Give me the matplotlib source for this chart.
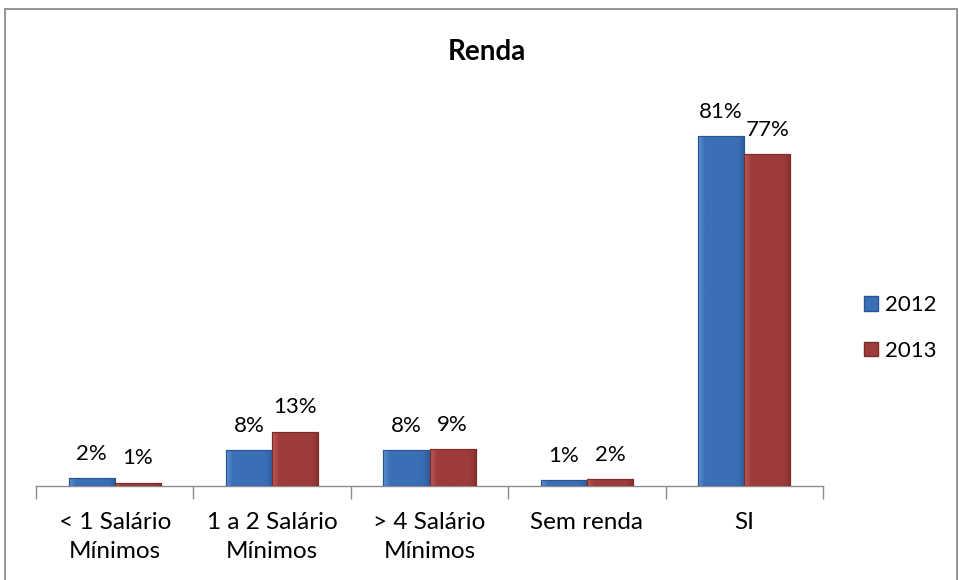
import matplotlib
matplotlib.use("Agg")
import matplotlib.pyplot as plt
import numpy as np
from matplotlib.patches import Rectangle, Patch

categories = ["< 1 Salário\nMínimos", "1 a 2 Salário\nMínimos", "> 4 Salário\nMínimos", "Sem renda", "SI"]
series_names = ["2012", "2013"]
values_2012 = [1.9, 8.4, 8.3, 1.4, 81.0]
values_2013 = [0.8, 12.6, 8.6, 1.6, 76.7]
title = "Renda"

FONT = ["Lato", "DejaVu Sans"]
plt.rcParams["font.family"] = FONT

fig = plt.figure(figsize=(9.59, 5.80), dpi=100)
ax = fig.add_axes([36/959, 94/580, 787/959, 389/580])

x = np.arange(len(categories))
w = 0.293
colors = ["#3a6fb6", "#9d3c3a"]
edge = ["#2a568f", "#7a2c2a"]
light = ["#5b8fd2", "#bf5a57"]
dark = ["#2d5c9c", "#88302e"]

for k, vals in enumerate([values_2012, values_2013]):
    off = (-0.5 + k) * w
    bars = ax.bar(x + off, vals, w, color=colors[k], edgecolor=edge[k], linewidth=0.8,
                  label=series_names[k], zorder=3)
    c1 = np.array(matplotlib.colors.to_rgb(light[k]))
    c2 = np.array(matplotlib.colors.to_rgb(colors[k]))
    c3 = np.array(matplotlib.colors.to_rgb(dark[k]))
    t = np.linspace(0, 1, 64)
    img = np.zeros((1, 64, 3))
    for i, tv in enumerate(t):
        if tv < 0.15:
            img[0, i] = c1 + (c2 - c1) * (tv / 0.15)
        elif tv < 0.85:
            img[0, i] = c2
        else:
            img[0, i] = c2 + (c3 - c2) * ((tv - 0.85) / 0.15)
    for b in bars:
        bx, by = b.get_x(), b.get_y()
        bw, bh = b.get_width(), b.get_height()
        im = ax.imshow(img, extent=[bx, bx + bw, by, by + bh], aspect="auto",
                       zorder=3.5, interpolation="bicubic")
        im.set_clip_path(b)
        ax.add_patch(Rectangle((bx, by), bw, bh, fill=False, edgecolor=edge[k],
                               linewidth=0.8, zorder=4))
    for b, v in zip(bars, vals):
        ax.annotate(f"{v:.0f}%", (b.get_x() + b.get_width()/2, b.get_height()),
                    xytext=(0, 13), textcoords="offset points", ha="center",
                    va="baseline", fontsize=16, color="black", zorder=5)

ax.set_xlim(-0.5, len(categories) - 0.5)
ax.set_ylim(0, 90)
ax.set_yticks([])
for s in ["top", "right", "left"]:
    ax.spines[s].set_visible(False)
ax.spines["bottom"].set_color("#8c8c8c")
ax.spines["bottom"].set_linewidth(1.0)
ax.set_xticks(np.arange(-0.5, len(categories), 1.0))
ax.set_xticklabels([])
ax.set_xticks(x, minor=True)
ax.set_xticklabels(categories, minor=True, fontsize=17.5, linespacing=1.42)
ax.tick_params(axis="x", which="major", length=9, color="#8c8c8c", width=1.0, direction="out")
ax.tick_params(axis="x", which="minor", length=0, pad=19)
ax.patch.set_visible(False)

fig.text(487/959, 1 - 52/580, title, ha="center", va="center", fontsize=20, fontweight="bold")

handles = [Patch(facecolor=colors[0], edgecolor=edge[0]), Patch(facecolor=colors[1], edgecolor=edge[1])]
fig.legend(handles, series_names, loc="center left", bbox_to_anchor=(864/959, 1 - 328/580),
           frameon=False, fontsize=16, handlelength=0.65, handleheight=0.65,
           handletextpad=0.3, labelspacing=1.15, borderaxespad=0, borderpad=0)

fig.add_artist(Rectangle((4.5/959, -0.05), 952/959, 1.05 - 8.5/580, transform=fig.transFigure,
                         fill=False, edgecolor="#8c8c8c", linewidth=1.3))

fig.savefig("out.png", dpi=100)
